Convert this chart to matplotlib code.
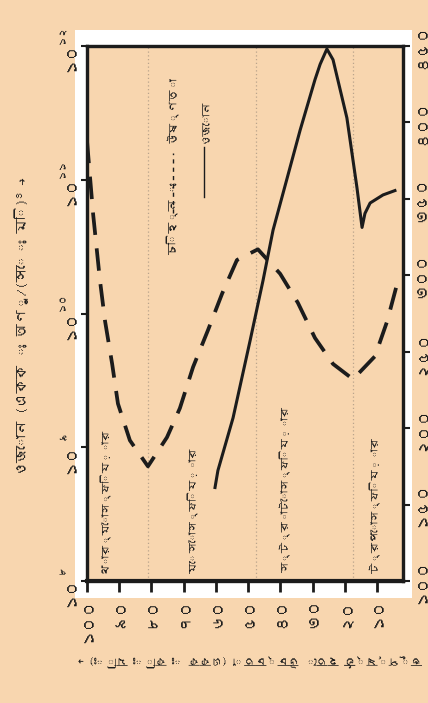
import matplotlib
matplotlib.use("Agg")
import matplotlib.pyplot as plt
import matplotlib.transforms as mtransforms
from matplotlib import font_manager as fm
from matplotlib.lines import Line2D

# ---------------- data ----------------
altitude_ticks = [100, 90, 80, 70, 60, 50, 40, 30, 20, 10]
altitude_tick_labels = ["১০০", "৯০", "৮০", "৭০", "৬০", "৫০", "৪০", "৩০", "২০", "১০"]
temp_ticks = [100, 150, 200, 250, 300, 350, 400, 450]
temp_tick_labels = ["১০০", "১৫০", "২০০", "২৫০", "৩০০", "৩৫০", "৪০০", "৪৫০"]
ozone_ticks = [1e8, 1e9, 1e10, 1e11, 1e12]
ozone_exponents = ["৮", "৯", "১০", "১১", "১২"]

temp_altitude = [100.0, 98.1, 96.0, 94.4, 92.2, 90.4, 86.7, 81.1, 75.2, 71.2, 67.1, 62.5,
                 58.1, 53.5, 47.0, 40.1, 34.6, 29.3, 23.7, 17.5, 10.7, 6.9, 3.5]
temperature = [388, 340, 297, 270, 242, 216, 192, 175, 194, 213, 240, 264,
               288, 310, 317, 301, 282, 259, 242, 232, 247, 270, 297]

ozone_altitude = [60.3, 59.4, 54.7, 49.4, 45.4, 42.3, 33.9, 29.3, 27.7, 25.6, 23.7,
                  19.4, 16.3, 14.7, 13.8, 12.2, 8.2, 4.5]
ozone_density = [5.0e8, 6.7e8, 1.66e9, 6.3e9, 1.77e10, 4.2e10, 2.35e11, 5.6e11, 7.3e11,
                 9.5e11, 7.9e11, 2.9e11, 8.8e10, 4.4e10, 5.6e10, 6.7e10, 7.7e10, 8.3e10]

layer_names = ["থার্মোস্ফিয়ার", "মেসোস্ফিয়ার", "স্ট্রাটোস্ফিয়ার", "ট্রপোস্ফিয়ার"]
layer_boundaries = [81.0, 47.5, 17.5]

legend_title = "চিহ্ন ঃ"
legend_temp = "উষ্ণতা"
legend_ozone = "ওজোন"
ozone_axis_title = "ওজোন (একক ঃ অণু/(সেঃ মি)³ →"
altitude_axis_title = "ভূপৃষ্ঠ হতে উচ্চতা (একক ঃ কিঃ মিঃ) →"

# ---------------- fonts ----------------
def bengali_fonts():
    names = []
    try:
        from fontTools.ttLib import TTFont
    except Exception:
        return names
    for f in fm.findSystemFonts():
        try:
            tt = TTFont(f, fontNumber=0, lazy=True)
            cmap = tt.getBestCmap()
            if cmap and 0x0995 in cmap:
                n = fm.FontProperties(fname=f).get_name()
                if n not in names:
                    names.append(n)
        except Exception:
            pass
    return names

bn = bengali_fonts()
families = bn[:1] + ["DejaVu Sans"]
plt.rcParams["font.family"] = families

BG = "#F8D6AF"
INK = "#1c1c1c"

W, H = 428, 703
fig = plt.figure(figsize=(W / 100, H / 100), dpi=100, facecolor=BG)

def fx(px):
    return px / W

def fy(py):
    return 1 - py / H

# white band behind the frame
band = plt.Rectangle((fx(75), fy(598)), fx(412) - fx(75), fy(30) - fy(598),
                     transform=fig.transFigure, facecolor="white",
                     edgecolor="none", zorder=-10)
fig.patches.append(band)

L, R, T, B = 87, 403, 46, 581
ax = fig.add_axes([fx(L), fy(B), fx(R) - fx(L), fy(T) - fy(B)])
ax.set_facecolor(BG)
ax.set_yscale("log")
ax.set_ylim(1e8, 1e12)
ax.set_xlim(100, 2)

axt = ax.twinx()
axt.set_ylim(100, 450)
axt.set_xlim(100, 2)

for a in (ax, axt):
    for s in a.spines.values():
        s.set_linewidth(2.3)
        s.set_color(INK)
ax.spines["bottom"].set_linewidth(3.0)

# x ticks (altitude)
ax.set_xticks(altitude_ticks)
ax.set_xticklabels(altitude_tick_labels, rotation=90, fontsize=11, color=INK)
ax.tick_params(axis="x", direction="out", length=8, width=2, color=INK, pad=4)
ax.set_yticks(ozone_ticks)
ax.set_yticklabels([""] * len(ozone_ticks))
ax.yaxis.set_minor_locator(matplotlib.ticker.NullLocator())
ax.tick_params(axis="y", which="both", direction="out", length=4, width=1.5, color=INK)

axt.set_yticks(temp_ticks)
axt.set_yticklabels(temp_tick_labels, rotation=90, fontsize=11, color=INK, va="center")
axt.tick_params(axis="y", direction="out", length=5, width=1.5, color=INK, pad=3)

# ozone tick labels with exponent
base_tr = mtransforms.blended_transform_factory(fig.transFigure, ax.transData)
for v, e in zip(ozone_ticks, ozone_exponents):
    ax.text(fx(70), v, "১০", rotation=90, ha="center", va="center", fontsize=11,
            color=INK, transform=base_tr + mtransforms.ScaledTranslation(0, -11 / 100, fig.dpi_scale_trans),
            clip_on=False)
    ax.text(fx(62), v, e, rotation=90, ha="center", va="center", fontsize=7,
            color=INK, transform=base_tr + mtransforms.ScaledTranslation(0, 12 / 100, fig.dpi_scale_trans),
            clip_on=False)

# layer boundaries
for b in layer_boundaries:
    ax.axvline(b, color="#b9a48c", lw=0.9, ls=(0, (1, 2)), zorder=1)

# curves
axt.plot(temp_altitude, temperature, color=INK, lw=2.7, dashes=(6, 3.6), zorder=3)
ax.plot(ozone_altitude, ozone_density, color=INK, lw=2.2, zorder=3)

# layer labels
lab_tr = mtransforms.blended_transform_factory(ax.transData, ax.transAxes)
for name, xa in zip(layer_names, [94.7, 67.1, 38.6, 10.7]):
    ax.text(xa, 0.015, name, rotation=90, ha="center", va="bottom", fontsize=7.5,
            color=INK, transform=lab_tr)

# legend
ax.text(0.272, 0.609, legend_title, rotation=90, ha="center", va="bottom",
        fontsize=8, color=INK, transform=ax.transAxes)
ax.add_line(Line2D([0.272, 0.272], [0.687, 0.800], transform=ax.transAxes, color=INK,
                   lw=1.0, dashes=(3, 3)))
ax.text(0.272, 0.818, legend_temp, rotation=90, ha="center", va="bottom",
        fontsize=8, color=INK, transform=ax.transAxes)
ax.add_line(Line2D([0.370, 0.370], [0.717, 0.811], transform=ax.transAxes, color=INK,
                   lw=1.0))
ax.text(0.370, 0.818, legend_ozone, rotation=90, ha="center", va="bottom",
        fontsize=8, color=INK, transform=ax.transAxes)

# axis titles
fig.text(fx(22), fy(326), ozone_axis_title, rotation=90, ha="center", va="center",
         fontsize=10, color=INK)
fig.text(fx(250), fy(660), altitude_axis_title, rotation=180, ha="center", va="center",
         fontsize=8, color=INK)

fig.savefig("out.png", dpi=100, facecolor=BG)
